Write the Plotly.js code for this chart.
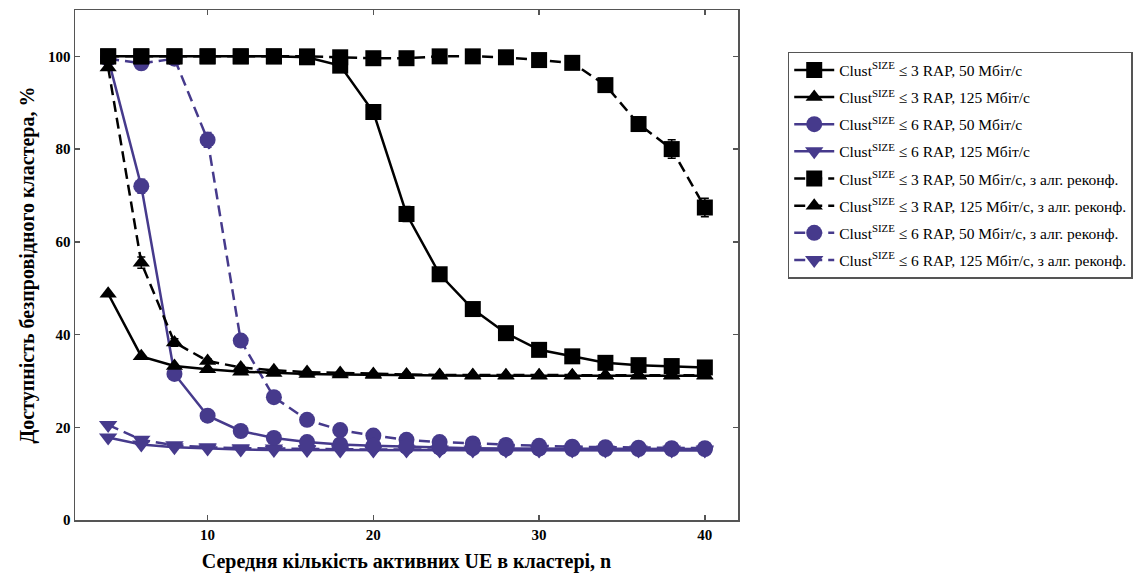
<!DOCTYPE html>
<html>
<head>
<meta charset="utf-8">
<script src="https://cdn.plot.ly/plotly-3.0.1.min.js"></script>
<style>html,body{margin:0;padding:0;background:#fff;}#chart{width:1144px;height:580px;}</style>
</head>
<body>
<div id="chart"></div>
<script>
// n values (average number of active UE in cluster)
const nValues = [4, 6, 8, 10, 12, 14, 16, 18, 20, 22, 24, 26, 28, 30, 32, 34, 36, 38, 40];

// Availability, %
const rap3_50   = [100, 100, 100, 100, 100, 100, 99.8, 98, 88, 66, 53, 45.5, 40.3, 36.7, 35.3, 33.9, 33.4, 33.2, 32.9];
const rap3_125  = [48.8, 35.3, 33.2, 32.5, 32, 31.7, 31.5, 31.4, 31.3, 31.2, 31.1, 31.1, 31.1, 31.1, 31.1, 31.1, 31.1, 31.1, 31.1];
const rap6_50   = [99.5, 72, 31.5, 22.5, 19.2, 17.7, 16.8, 16.3, 16, 15.8, 15.6, 15.5, 15.4, 15.4, 15.3, 15.3, 15.3, 15.3, 15.3];
const rap6_125  = [17.8, 16.3, 15.7, 15.4, 15.2, 15.1, 15.1, 15, 15, 15, 15, 15, 15, 15, 15, 15, 15, 15, 15];
const rap3_50r  = [100, 100, 100, 100, 100, 100, 100, 99.8, 99.6, 99.6, 100, 100, 99.8, 99.2, 98.6, 93.8, 85.4, 80, 67.4];
const rap3_125r = [97.6, 55.5, 38.3, 34.3, 32.9, 32.3, 31.9, 31.7, 31.5, 31.4, 31.3, 31.3, 31.2, 31.2, 31.2, 31.2, 31.2, 31.2, 31.2];
const rap6_50r  = [99.5, 98.5, 99.5, 82, 38.7, 26.5, 21.6, 19.4, 18.2, 17.3, 16.8, 16.5, 16.2, 16, 15.8, 15.7, 15.6, 15.5, 15.5];
const rap6_125r = [20.5, 17.3, 16.1, 15.7, 15.5, 15.4, 15.3, 15.3, 15.2, 15.2, 15.2, 15.2, 15.2, 15.2, 15.2, 15.2, 15.2, 15.2, 15.2];

// Error bar half-widths
const err3_50   = [0.3, 0.3, 0.3, 0.3, 0.3, 0.3, 0.4, 0.6, 1.2, 1.6, 1.2, 1, 0.8, 0.6, 0.5, 0.5, 0.5, 0.5, 0.5];
const err3_50r  = [0.3, 0.3, 0.3, 0.3, 0.3, 0.3, 0.3, 0.3, 0.3, 0.3, 0.3, 0.3, 0.3, 0.4, 0.6, 0.8, 1.5, 2, 2];
const err6_50   = [0.3, 1.5, 0.8, 0.6, 0.4, 0.3, 0.3, 0.3, 0.3, 0.3, 0.3, 0.3, 0.3, 0.3, 0.3, 0.3, 0.3, 0.3, 0.3];
const err6_50r  = [0.3, 0.6, 0.3, 1.6, 1, 0.8, 0.5, 0.4, 0.3, 0.3, 0.3, 0.3, 0.3, 0.3, 0.3, 0.3, 0.3, 0.3, 0.3];
const err3_125r = [0.6, 1.2, 0.8, 0.5, 0.4, 0.3, 0.3, 0.3, 0.3, 0.3, 0.3, 0.3, 0.3, 0.3, 0.3, 0.3, 0.3, 0.3, 0.3];

const legendNames = [
  "Clust<sup>SIZE</sup> ≤ 3 RAP, 50 Мбіт/с",
  "Clust<sup>SIZE</sup> ≤ 3 RAP, 125 Мбіт/с",
  "Clust<sup>SIZE</sup> ≤ 6 RAP, 50 Мбіт/с",
  "Clust<sup>SIZE</sup> ≤ 6 RAP, 125 Мбіт/с",
  "Clust<sup>SIZE</sup> ≤ 3 RAP, 50 Мбіт/с, з алг. реконф.",
  "Clust<sup>SIZE</sup> ≤ 3 RAP, 125 Мбіт/с, з алг. реконф.",
  "Clust<sup>SIZE</sup> ≤ 6 RAP, 50 Мбіт/с, з алг. реконф.",
  "Clust<sup>SIZE</sup> ≤ 6 RAP, 125 Мбіт/с, з алг. реконф."
];

const BLACK = '#000000';
const PURPLE = '#463a8c';
const DASH = '11px,6px';
const SERIF = 'Liberation Serif, Times New Roman, serif';

function tr(name, y, color, symbol, size, dash, err) {
  const t = {
    type: 'scatter', mode: 'lines+markers', x: nValues, y: y, name: name,
    line: {color: color, width: 2.5, dash: dash},
    marker: {color: color, symbol: symbol, size: size, line: {width: 0}}
  };
  if (err) t.error_y = {type: 'data', array: err, visible: true, color: color, thickness: 1.5, width: 4};
  return t;
}

const data = [
  tr(legendNames[6], rap6_50r, PURPLE, 'circle', 16, DASH, err6_50r),
  tr(legendNames[7], rap6_125r, PURPLE, 'triangle-down', 16, DASH, null),
  tr(legendNames[2], rap6_50, PURPLE, 'circle', 16, 'solid', err6_50),
  tr(legendNames[3], rap6_125, PURPLE, 'triangle-down', 16, 'solid', null),
  tr(legendNames[4], rap3_50r, BLACK, 'square', 16, DASH, err3_50r),
  tr(legendNames[5], rap3_125r, BLACK, 'triangle-up', 15, DASH, err3_125r),
  tr(legendNames[0], rap3_50, BLACK, 'square', 16, 'solid', err3_50),
  tr(legendNames[1], rap3_125, BLACK, 'triangle-up', 15, 'solid', null)
];
// legend order as in the reference
const rank = [6, 7, 2, 3, 4, 5, 0, 1];
data.forEach((t, i) => { t.legendrank = rank[i] + 1; t.legendgroup = 'g' + rank[i]; });

const layout = {
  width: 1144, height: 580,
  margin: {l: 75, r: 406, t: 10, b: 60},
  paper_bgcolor: '#ffffff', plot_bgcolor: '#ffffff',
  font: {family: SERIF, color: '#000'},
  showlegend: true,
  legend: {
    x: 1.075, y: 0.918, xanchor: 'left', yanchor: 'top',
    bgcolor: '#ffffff', bordercolor: '#555555', borderwidth: 1.5,
    font: {family: SERIF, size: 15.5, color: '#000'},
    tracegroupgap: 4, itemwidth: 40, traceorder: 'grouped',
    groupclick: 'toggleitem'
  },
  xaxis: {
    range: [2, 42], tickvals: [10, 20, 30, 40], ticktext: ['10', '20', '30', '40'],
    ticks: 'inside', ticklen: 5, tickcolor: '#555', tickwidth: 1.5,
    showline: true, linecolor: '#555', linewidth: 1.5, mirror: 'ticks',
    showgrid: false, zeroline: false,
    tickfont: {size: 15, family: SERIF, weight: 'bold'},
    title: {text: '<b>Середня кількість активних UE в кластері, n</b>', font: {size: 20, family: SERIF}, standoff: 12}
  },
  yaxis: {
    range: [0, 110], tickvals: [0, 20, 40, 60, 80, 100], ticktext: ['0', '20', '40', '60', '80', '100'],
    ticks: 'inside', ticklen: 5, tickcolor: '#555', tickwidth: 1.5,
    showline: true, linecolor: '#555', linewidth: 1.5, mirror: 'ticks',
    showgrid: false, zeroline: false,
    tickfont: {size: 15, family: SERIF, weight: 'bold'},
    title: {text: '<b>Доступність безпровідного кластера, %</b>', font: {size: 20, family: SERIF}, standoff: 8}
  }
};

Plotly.newPlot('chart', data, layout, {displayModeBar: false, staticPlot: true});
</script>
</body>
</html>
